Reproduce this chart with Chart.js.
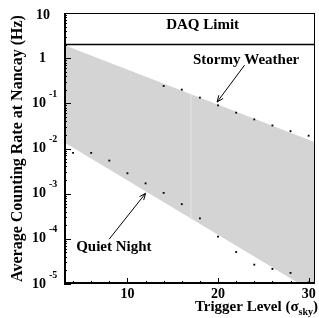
<!DOCTYPE html>
<html lang="en">
<head>
    <meta charset="UTF-8">
    <title>Counting Rate vs Trigger Level</title>
    <style>
        body { margin: 0; background: #fff; }
        #wrap { width: 319px; height: 318px; }
    </style>
</head>
<body>
    <div id="wrap"><canvas id="rate-chart" width="319" height="318"></canvas></div>
    <script src="https://cdn.jsdelivr.net/npm/chart.js@4/dist/chart.umd.min.js"></script>
    <script>
        // trigger levels (sigma_sky) and measured rates (Hz)
        const quietLevels = [4, 6, 8, 10, 12, 14, 16, 18, 20, 22, 24, 26, 28, 30];
        const quietRates = [0.0080, 0.0080, 0.0054, 0.00283, 0.00169, 0.00104, 0.000585, 0.000283, 0.000112, 5.1e-5, 2.68e-5, 2.16e-5, 1.76e-5, 1.09e-5];
        const stormyLevels = [14, 16, 18, 20, 22, 24, 26, 28, 30];
        const stormyRates = [0.242, 0.201, 0.134, 0.0903, 0.0621, 0.0441, 0.0324, 0.0242, 0.0192];

        // shaded band edges
        const bandX = [3, 30.7];
        const bandUpper = [1.95, 0.0138];
        const bandLower = [0.0138, 6.3e-6];
        const seamX = [17, 17];
        const seamY = [0.16, 0.00028];
        const daqLimit = 2;

        const xTickLabels = ['10', '20', '30'];
        const yDecades = [1, 0, -1, -2, -3, -4, -5];

        const SERIF = '"Liberation Serif", "DejaVu Serif", serif';
        const pts = (xs, ys) => xs.map((x, i) => ({ x, y: ys[i] }));

        function arrow(ctx, x0, y0, x1, y1) {
            const a = Math.atan2(y1 - y0, x1 - x0);
            const h = 7;
            ctx.beginPath();
            ctx.moveTo(x0, y0);
            ctx.lineTo(x1, y1);
            ctx.moveTo(x1 - h * Math.cos(a - 0.4), y1 - h * Math.sin(a - 0.4));
            ctx.lineTo(x1, y1);
            ctx.lineTo(x1 - h * Math.cos(a + 0.4), y1 - h * Math.sin(a + 0.4));
            ctx.stroke();
        }

        const decorations = {
            id: 'decorations',
            afterDraw(chart) {
                const ctx = chart.ctx;
                const a = chart.chartArea;
                const xs = chart.scales.x, ys = chart.scales.y;
                const X = v => xs.getPixelForValue(v);
                const Y = v => ys.getPixelForValue(v);
                ctx.save();
                ctx.strokeStyle = '#000';
                ctx.fillStyle = '#000';

                // frame
                ctx.lineWidth = 1;
                ctx.strokeRect(a.left + 0.5, a.top + 0.5, a.right - a.left - 1, a.bottom - a.top - 1);
                ctx.lineWidth = 2;
                ctx.beginPath();
                ctx.moveTo(a.left + 1, a.top);
                ctx.lineTo(a.left + 1, a.bottom - 1);
                ctx.lineTo(a.right, a.bottom - 1);
                ctx.stroke();

                // inward ticks
                ctx.lineWidth = 1;
                ctx.beginPath();
                for (let v = 4; v <= 30; v += 2) {
                    const px = Math.round(X(v)) + 0.5;
                    const len = v % 10 === 0 ? 6 : 3;
                    ctx.moveTo(px, a.bottom);
                    ctx.lineTo(px, a.bottom - len);
                }
                for (let k = -5; k <= 0; k++) {
                    for (let m = 1; m <= 9; m++) {
                        const py = Math.round(Y(m * Math.pow(10, k))) + 0.5;
                        const len = m === 1 ? 7 : 3;
                        ctx.moveTo(a.left, py);
                        ctx.lineTo(a.left + len, py);
                    }
                }
                ctx.stroke();

                // x tick labels
                ctx.font = 'bold 14px ' + SERIF;
                ctx.textAlign = 'center';
                ctx.textBaseline = 'middle';
                xTickLabels.forEach(t => ctx.fillText(t, X(Number(t)), a.bottom + 10));

                // y tick labels
                yDecades.forEach(k => {
                    const py = Y(Math.pow(10, k));
                    ctx.textAlign = 'right';
                    ctx.font = 'bold 14px ' + SERIF;
                    if (k === 1) {
                        ctx.fillText('10', 50, py + 2);
                    } else if (k === 0) {
                        ctx.fillText('1', 46, py);
                    } else {
                        ctx.fillText('10', 46, py);
                        ctx.textAlign = 'left';
                        ctx.font = 'bold 10px ' + SERIF;
                        ctx.fillText(String(k), 49, py - 9);
                    }
                });

                // y title
                ctx.save();
                ctx.translate(18, (a.top + a.bottom) / 2);
                ctx.rotate(-Math.PI / 2);
                ctx.textAlign = 'center';
                ctx.font = 'bold 16px ' + SERIF;
                ctx.fillText('Average Counting Rate at Nancay (Hz)', 0, 0);
                ctx.restore();

                // x title with subscript
                const big = 'bold 15px ' + SERIF, small = 'bold 10px ' + SERIF;
                ctx.textAlign = 'left';
                ctx.font = big;
                const w1 = ctx.measureText('Trigger Level (\u03c3').width;
                const w3 = ctx.measureText(')').width;
                ctx.font = small;
                const w2 = ctx.measureText('sky').width;
                let tx = 318 - (w1 + w2 + w3);
                const ty = a.bottom + 23;
                ctx.font = big;
                ctx.fillText('Trigger Level (\u03c3', tx, ty);
                ctx.font = small;
                ctx.fillText('sky', tx + w1, ty + 5);
                ctx.font = big;
                ctx.fillText(')', tx + w1 + w2, ty);

                // annotations
                ctx.textAlign = 'center';
                ctx.font = 'bold 15px ' + SERIF;
                ctx.fillText('DAQ Limit', X(18.3), Y(5.3));
                ctx.fillText('Stormy Weather', X(23.1), Y(0.9));
                ctx.fillText('Quiet Night', X(8.5), Y(6.4e-5));
                ctx.lineWidth = 1;
                arrow(ctx, X(22.93), Y(0.70), X(19.9), Y(0.107));
                arrow(ctx, X(7.99), Y(9.85e-5), X(12), Y(1.016e-3));
                ctx.restore();
            }
        };

        new Chart(document.getElementById('rate-chart'), {
            type: 'scatter',
            data: {
                datasets: [
                    { data: pts(bandX, bandUpper), showLine: true, pointRadius: 0, borderWidth: 0, borderColor: 'rgba(0,0,0,0)', backgroundColor: '#d4d4d4', fill: '+1' },
                    { data: pts(bandX, bandLower), showLine: true, pointRadius: 0, borderWidth: 0, borderColor: 'rgba(0,0,0,0)', fill: false },
                    { data: pts(seamX, seamY), showLine: true, pointRadius: 0, borderWidth: 0.6, borderColor: '#e2e2e2' },
                    { data: pts(bandX, [daqLimit, daqLimit]), showLine: true, pointRadius: 0, borderWidth: 1.5, borderColor: '#000' },
                    { data: pts(stormyLevels, stormyRates), pointStyle: 'rect', pointRadius: 1.3, backgroundColor: '#000', borderWidth: 0 },
                    { data: pts(quietLevels, quietRates), pointStyle: 'rect', pointRadius: 1.3, backgroundColor: '#000', borderWidth: 0 }
                ]
            },
            options: {
                responsive: false,
                animation: false,
                devicePixelRatio: 1,
                layout: { padding: { left: 64, top: 13, right: 2, bottom: 34 } },
                plugins: {
                    legend: { display: false },
                    tooltip: { enabled: false },
                    filler: { drawTime: 'beforeDatasetsDraw' }
                },
                scales: {
                    x: { type: 'linear', min: 3, max: 30.7, display: false },
                    y: { type: 'logarithmic', min: 1e-5, max: 10, display: false }
                }
            },
            plugins: [decorations]
        });
    </script>
</body>
</html>
